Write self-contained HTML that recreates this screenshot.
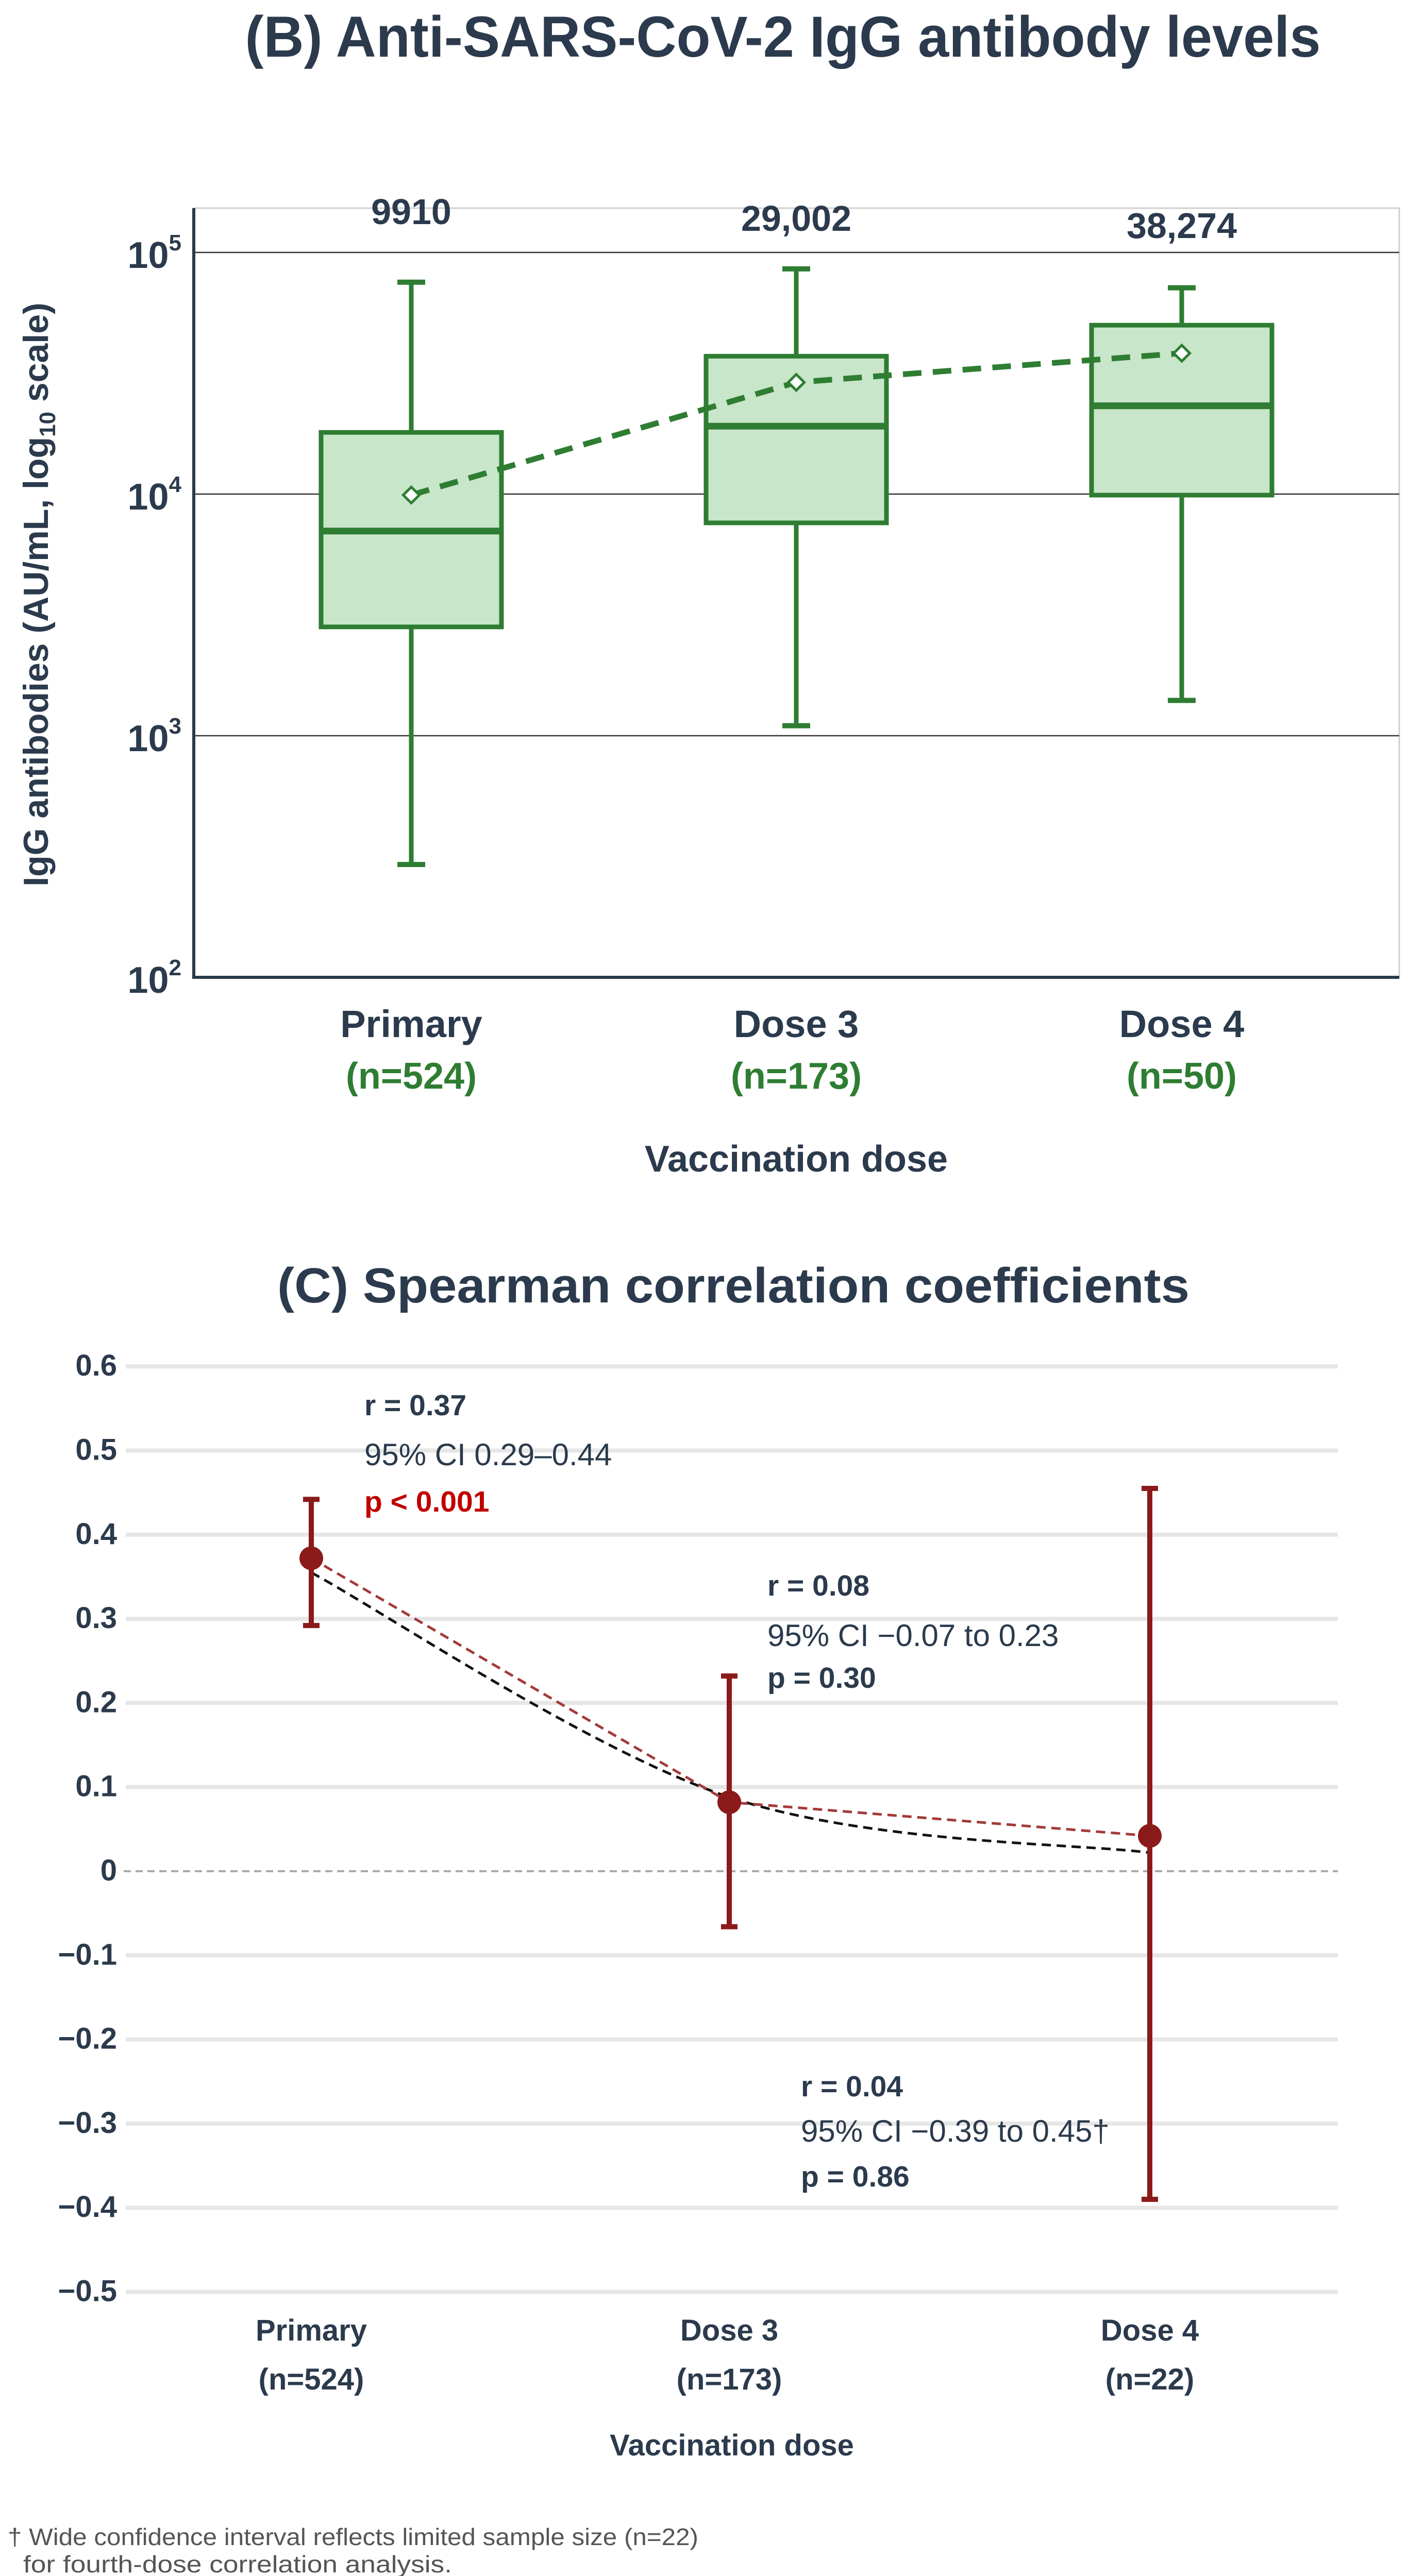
<!DOCTYPE html>
<html><head><meta charset="utf-8"><style>
html,body{margin:0;padding:0;background:#fff;overflow:hidden;width:2732px;height:5057px}
svg{display:block}
text{font-family:"Liberation Sans",sans-serif}
</style></head><body>
<svg id="fig" width="2732" height="5057" viewBox="0 0 2732 5057" xmlns="http://www.w3.org/2000/svg">
<rect width="2732" height="5057" fill="#fff"/>
<g id="pb"></g>
<g id="pc"></g>
</svg>
<script>
// ---- Panel B data ----
const bCats = ["Primary","Dose 3","Dose 4"];
const bN = ["(n=524)","(n=173)","(n=50)"];
const bWhiskLow = [293, 1100, 1400];
const bQ1 = [2820, 7600, 9900];
const bMedian = [7030, 19100, 23200];
const bQ3 = [18000, 37200, 50000];
const bWhiskHigh = [75300, 85500, 71400];
const bMean = [9910, 29002, 38274];
const bMeanLabels = ["9910","29,002","38,274"];
const bTickExp = [2,3,4,5];
// ---- Panel C data ----
const cCats = ["Primary","Dose 3","Dose 4"];
const cN = ["(n=524)","(n=173)","(n=22)"];
const cR = [0.372, 0.082, 0.042];
const cLo = [0.292, -0.066, -0.39];
const cHi = [0.442, 0.232, 0.455];
const cTrend = [0.355, 0.088, 0.022];
const cTicks = [0.6,0.5,0.4,0.3,0.2,0.1,0,-0.1,-0.2,-0.3,-0.4,-0.5];
const cTickLabels = ["0.6","0.5","0.4","0.3","0.2","0.1","0","\u22120.1","\u22120.2","\u22120.3","\u22120.4","\u22120.5"];

const NS="http://www.w3.org/2000/svg";
function mk(parent, tag, attrs, txt){
  const e=document.createElementNS(NS,tag);
  for(const k in attrs) e.setAttribute(k,attrs[k]);
  if(txt!==undefined) e.textContent=txt;
  parent.appendChild(e); return e;
}
const DARK="#2b3a4c", GREEN="#2e7d32", RED="#8b1a1a";

// ===== Panel B =====
const pb=document.getElementById('pb');
const bx0=376, bx1=2715, byTop=404;
const yB = v => 490 + (5 - Math.log10(v))*469;
const xB = i => [798,1545,2293][i];
let t=mk(pb,'text',{x:1519,y:110,'text-anchor':'middle','font-size':112,'font-weight':'bold',fill:DARK,textLength:2087,lengthAdjust:'spacingAndGlyphs'},"(B) Anti-SARS-CoV-2 IgG antibody levels");


let fr=mk(pb,'rect',{x:bx0,y:byTop,width:bx1-bx0,height:yB(100)-byTop,fill:'#fff',stroke:'#d0d0d0','stroke-width':3});


bTickExp.forEach(e=>{
  const y=yB(Math.pow(10,e));
  if(e>2){
    const g=mk(pb,'line',{x1:bx0,x2:bx1,y1:y,y2:y,stroke:'#333','stroke-width':2.5});
    
    
  }
  const tl=mk(pb,'text',{x:352,y:y+30,'text-anchor':'end','font-size':72,'font-weight':'bold',fill:DARK});
  
  
  mk(tl,'tspan',{},"10");
  mk(tl,'tspan',{dy:-34,'font-size':44},String(e));
});
let ax=mk(pb,'path',{d:`M${bx0} ${byTop} V${yB(100)} H${bx1}`,fill:'none',stroke:DARK,'stroke-width':6});


let yt=mk(pb,'text',{transform:'translate(93,1154) rotate(-90)','text-anchor':'middle','font-size':68,'font-weight':'bold',fill:DARK});


mk(yt,'tspan',{},"IgG antibodies (AU/mL, log");
mk(yt,'tspan',{'font-size':44,dy:14},"10");
mk(yt,'tspan',{dy:-14}," scale)");
const hw=175, capw=54;
bCats.forEach((c,i)=>{
  const x=xB(i);
  const g=mk(pb,'g',{});
  
  
  mk(g,'line',{x1:x,x2:x,y1:yB(bWhiskHigh[i]),y2:yB(bQ3[i]),stroke:GREEN,'stroke-width':9});
  mk(g,'line',{x1:x,x2:x,y1:yB(bQ1[i]),y2:yB(bWhiskLow[i]),stroke:GREEN,'stroke-width':9});
  mk(g,'line',{x1:x-capw/2,x2:x+capw/2,y1:yB(bWhiskHigh[i]),y2:yB(bWhiskHigh[i]),stroke:GREEN,'stroke-width':10});
  mk(g,'line',{x1:x-capw/2,x2:x+capw/2,y1:yB(bWhiskLow[i]),y2:yB(bWhiskLow[i]),stroke:GREEN,'stroke-width':10});
  mk(g,'rect',{x:x-hw,y:yB(bQ3[i]),width:2*hw,height:yB(bQ1[i])-yB(bQ3[i]),fill:'#c8e6c9',stroke:GREEN,'stroke-width':9});
  mk(g,'line',{x1:x-hw,x2:x+hw,y1:yB(bMedian[i]),y2:yB(bMedian[i]),stroke:GREEN,'stroke-width':13});
  const ml=mk(pb,'text',{x:x,y:[435,448,462][i],'text-anchor':'middle','font-size':70,'font-weight':'bold',fill:DARK},bMeanLabels[i]);
  
  
  const cl=mk(pb,'text',{x:x,y:2013,'text-anchor':'middle','font-size':74,'font-weight':'bold',fill:DARK},c);
  
  
  const nl=mk(pb,'text',{x:x,y:2113,'text-anchor':'middle','font-size':72,'font-weight':'bold',fill:GREEN},bN[i]);
  
  
});
let mpath='M'+bMean.map((v,i)=>xB(i)+' '+yB(v)).join(' L');
let mline=mk(pb,'path',{d:mpath,fill:'none',stroke:GREEN,'stroke-width':11,'stroke-dasharray':'36 22'});


bMean.forEach((v,i)=>{
  const d=mk(pb,'rect',{x:xB(i)-11,y:yB(v)-11,width:22,height:22,fill:'#fff',stroke:GREEN,'stroke-width':5,transform:`rotate(45 ${xB(i)} ${yB(v)})`});
  
  
});
let xt=mk(pb,'text',{x:1545,y:2274,'text-anchor':'middle','font-size':72,'font-weight':'bold',fill:DARK},"Vaccination dose");



// ===== Panel C =====
const pc=document.getElementById('pc');
const yC = v => 3632 - v*1633;
const xC = i => [604,1415,2231][i];
let ct=mk(pc,'text',{x:1423,y:2528,'text-anchor':'middle','font-size':96,'font-weight':'bold',fill:DARK,textLength:1770,lengthAdjust:'spacingAndGlyphs'},"(C) Spearman correlation coefficients");


cTicks.forEach((v,i)=>{
  const y=yC(v);
  if(v===0){
    const z=mk(pc,'line',{x1:240,x2:2596,y1:y,y2:y,stroke:'#aaa','stroke-width':4,'stroke-dasharray':'14 9'});
    
    
  } else {
    const g=mk(pc,'line',{x1:244,x2:2596,y1:y,y2:y,stroke:'#e6e6e6','stroke-width':8});
    
    
  }
  const tl=mk(pc,'text',{x:227,y:y+18,'text-anchor':'end','font-size':58,'font-weight':'bold',fill:DARK},cTickLabels[i]);
  
  
});
const pts=cTrend.map((v,i)=>[xC(i),yC(v)]);
let d=`M${pts[0][0]} ${pts[0][1]}`;
for(let i=0;i<pts.length-1;i++){
  const p0=pts[Math.max(i-1,0)],p1=pts[i],p2=pts[i+1],p3=pts[Math.min(i+2,pts.length-1)];
  const c1=[p1[0]+(p2[0]-p0[0])/6,p1[1]+(p2[1]-p0[1])/6];
  const c2=[p2[0]-(p3[0]-p1[0])/6,p2[1]-(p3[1]-p1[1])/6];
  d+=` C${c1[0]} ${c1[1]} ${c2[0]} ${c2[1]} ${p2[0]} ${p2[1]}`;
}
let tc=mk(pc,'path',{d:d,fill:'none',stroke:'#111','stroke-width':5,'stroke-dasharray':'18 11'});


let rl=mk(pc,'path',{d:'M'+cR.map((v,i)=>xC(i)+' '+yC(v)).join(' L'),fill:'none',stroke:'#a33a3a','stroke-width':5,'stroke-dasharray':'18 11'});


cCats.forEach((c,i)=>{
  const x=xC(i);
  const g=mk(pc,'g',{});
  
  
  mk(g,'line',{x1:x,x2:x,y1:yC(cHi[i]),y2:yC(cLo[i]),stroke:RED,'stroke-width':10});
  mk(g,'line',{x1:x-16,x2:x+16,y1:yC(cHi[i]),y2:yC(cHi[i]),stroke:RED,'stroke-width':10});
  mk(g,'line',{x1:x-16,x2:x+16,y1:yC(cLo[i]),y2:yC(cLo[i]),stroke:RED,'stroke-width':10});
  const p=mk(pc,'circle',{cx:x,cy:yC(cR[i]),r:23,fill:RED});
  
  
  const cl=mk(pc,'text',{x:x,y:4543,'text-anchor':'middle','font-size':58,'font-weight':'bold',fill:DARK},c);
  
  
  const nl=mk(pc,'text',{x:x,y:4638,'text-anchor':'middle','font-size':58,'font-weight':'bold',fill:DARK},cN[i]);
  
  
});
function ann(x,y,txt,bold,col,name){
  const e=mk(pc,'text',{x:x,y:y,'font-size':bold?57:60,'font-weight':bold?'bold':'normal',fill:col},txt);
  
  
}
ann(707,2747,"r = 0.37",true,DARK,'annotation-r-primary');
ann(707,2844,"95% CI 0.29\u20130.44",false,DARK,'annotation-ci-primary');
ann(707,2934,"p < 0.001",true,"#c00000",'annotation-p-primary');
ann(1489,3097,"r = 0.08",true,DARK,'annotation-r-dose3');
ann(1489,3195,"95% CI \u22120.07 to 0.23",false,DARK,'annotation-ci-dose3');
ann(1489,3276,"p = 0.30",true,DARK,'annotation-p-dose3');
ann(1554,4069,"r = 0.04",true,DARK,'annotation-r-dose4');
ann(1554,4157,"95% CI \u22120.39 to 0.45\u2020",false,DARK,'annotation-ci-dose4');
ann(1554,4244,"p = 0.86",true,DARK,'annotation-p-dose4');
let cx=mk(pc,'text',{x:1420,y:4766,'text-anchor':'middle','font-size':58,'font-weight':'bold',fill:DARK},"Vaccination dose");


const foot=["\u2020 Wide confidence interval reflects limited sample size (n=22)","for fourth-dose correlation analysis.","Error bars = 95% CI via Fisher's z-transformation."];
const footX=[15,45,15], footW=[1340,832,1155];
[4940,4993,5034].forEach((y,i)=>{
  const f=mk(pc,'text',{x:footX[i],y:y,'font-size':46,fill:'#555',textLength:footW[i],lengthAdjust:'spacingAndGlyphs'},foot[i]);
  
  
});
</script>
</body></html>
